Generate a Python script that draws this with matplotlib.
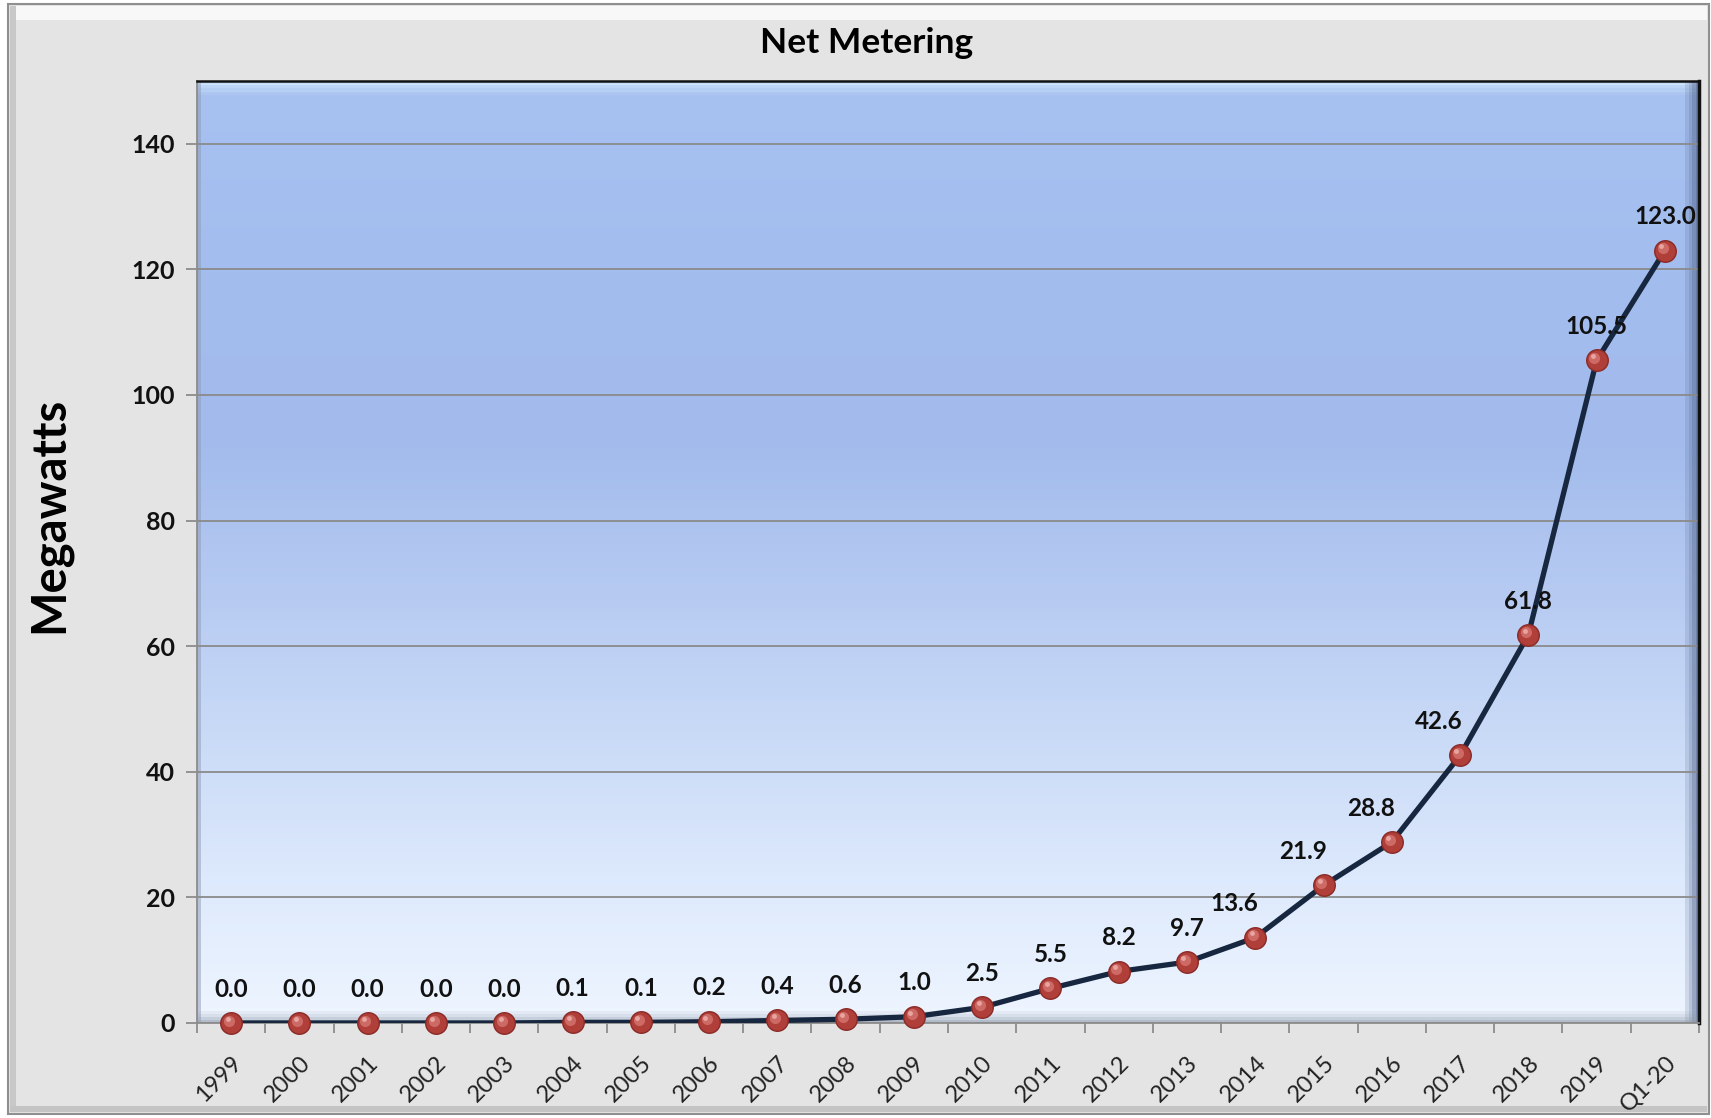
import matplotlib
matplotlib.use('Agg')
import matplotlib.pyplot as plt
import numpy as np
from matplotlib.patches import Rectangle
from matplotlib.colors import LinearSegmentedColormap
from matplotlib.transforms import ScaledTranslation

categories = ['1999', '2000', '2001', '2002', '2003', '2004', '2005', '2006',
              '2007', '2008', '2009', '2010', '2011', '2012', '2013', '2014',
              '2015', '2016', '2017', '2018', '2019', 'Q1-20']
values = [0.0, 0.0, 0.0, 0.0, 0.0, 0.1, 0.1, 0.2, 0.4, 0.6, 1.0, 2.5, 5.5,
          8.2, 9.7, 13.6, 21.9, 28.8, 42.6, 61.8, 105.5, 123.0]
y_ticks = [0, 20, 40, 60, 80, 100, 120, 140]
title = 'Net Metering'
y_label = 'Megawatts'

# label nudges (points) for a few data labels, as in the reference
label_dx = [0] * 22
for i in (15, 16, 17, 18):
    label_dx[i] = -15

FONT = 'Lato'
W, H = 1711, 1118
fig = plt.figure(figsize=(W / 100, H / 100), dpi=100, facecolor='white')


def px_rect(x0, y0, x1, y1, **kw):
    return Rectangle((x0 / W, 1 - y1 / H), (x1 - x0) / W, (y1 - y0) / H,
                     transform=fig.transFigure, **kw)


# chart area with bevel
fig.patches.append(px_rect(8, 4, 1709, 1114, facecolor='#e4e4e4',
                           edgecolor='#8f8f8f', lw=1.5, zorder=-3))
fig.patches.append(px_rect(10, 6, 1707, 20, facecolor='#f8f8f8',
                           edgecolor='none', zorder=-2))
fig.patches.append(px_rect(10, 6, 16, 1112, facecolor='#c8c8c8',
                           edgecolor='none', zorder=-2))
fig.patches.append(px_rect(10, 1106, 1707, 1112, facecolor='#c4c4c4',
                           edgecolor='none', zorder=-2))

L, R, T, B = 197, 1699, 81, 1023
ax = fig.add_axes([L / W, 1 - B / H, (R - L) / W, (B - T) / H])
ax.set_zorder(1)
ax.set_xlim(-0.5, len(categories) - 0.5)
ax.set_ylim(0, 150)

# gradient plot area
cmap = LinearSegmentedColormap.from_list('pa', [
    (0.0, '#eef5ff'), (0.15, '#dde9fc'), (0.3, '#cadbf7'), (0.45, '#b7cbf2'),
    (0.62, '#a2bbec'), (0.8, '#a3bdee'), (1.0, '#a7c1f1')])
grad = np.linspace(0, 1, 256).reshape(-1, 1)
ax.imshow(grad, extent=[-0.5, len(categories) - 0.5, 0, 150], aspect='auto',
          origin='lower', cmap=cmap, interpolation='bilinear', zorder=0)

# bevel bands inside plot area (axes fraction from pixels)
aw, ah = R - L, B - T
for k, a in enumerate([0.55, 0.4, 0.25, 0.12]):
    ax.add_patch(Rectangle((0, 1 - (k + 1) * 3.5 / ah), 1, 3.5 / ah,
                           transform=ax.transAxes, facecolor='#dff4ff',
                           alpha=a, edgecolor='none', zorder=0.6))
for k, a in enumerate([0.75, 0.55, 0.35, 0.18]):
    ax.add_patch(Rectangle((1 - (k + 1) * 3.5 / aw, 0), 3.5 / aw, 1,
                           transform=ax.transAxes, facecolor='#55688f',
                           alpha=a, edgecolor='none', zorder=0.6))
for k, a in enumerate([0.6, 0.4, 0.22, 0.1]):
    ax.add_patch(Rectangle((0, k * 3 / ah), 1, 3 / ah, transform=ax.transAxes,
                           facecolor='#8c96a8', alpha=a, edgecolor='none',
                           zorder=0.6))
ax.add_patch(Rectangle((0, 0), 4 / aw, 1, transform=ax.transAxes,
                       facecolor='#8f9bb3', alpha=0.5, edgecolor='none', zorder=0.6))

# grid
ax.set_yticks(y_ticks)
ax.yaxis.grid(True, color='#8a8a8a', lw=1.3)
ax.xaxis.grid(False)

for s in ('left', 'bottom'):
    ax.spines[s].set_color('#8c8c8c')
    ax.spines[s].set_linewidth(1.3)
ax.spines['top'].set_color('#111111')
ax.spines['top'].set_linewidth(1.8)
ax.spines['right'].set_color('#111111')
ax.spines['right'].set_linewidth(2.5)

x = np.arange(len(categories))
ax.plot(x, values, color='#17273f', lw=3.8, zorder=3, solid_capstyle='round')
ax.plot(x, values, 'o', ms=15.5, mfc='#b03f3a', mec='#8a2a26', mew=1.0,
        zorder=4, clip_on=False)
off = ax.transData + ScaledTranslation(-1.6 / 72, 1.8 / 72, fig.dpi_scale_trans)
ax.plot(x, values, 'o', ms=8, mfc='#d57670', mec='none', alpha=0.8,
        zorder=5, transform=off, clip_on=False)
off2 = ax.transData + ScaledTranslation(-2.6 / 72, 3.0 / 72, fig.dpi_scale_trans)
ax.plot(x, values, 'o', ms=3.5, mfc='#efb3ae', mec='none', alpha=0.8,
        zorder=5, transform=off2, clip_on=False)

for i, v in enumerate(values):
    ax.annotate(f'{v:.1f}', (i, v), xytext=(label_dx[i], 19),
                textcoords='offset points', ha='center', va='baseline',
                fontsize=17.5, fontweight='bold', family=FONT, color='#111111',
                zorder=6, annotation_clip=False)

# ticks
ax.set_xticks(x)
ax.set_xticklabels(categories, rotation=45, ha='right', va='top',
                   rotation_mode='anchor', fontsize=17, family=FONT,
                   color='#222222')
ax.tick_params(axis='x', which='major', length=0, pad=21)
ax.set_xticks(np.arange(-0.5, len(categories)), minor=True)
ax.tick_params(axis='x', which='minor', length=7, width=1.3, color='#8c8c8c',
               direction='out')
ax.tick_params(axis='y', length=8, width=1.3, color='#8c8c8c', pad=8,
               direction='out')
for t in ax.get_yticklabels():
    t.set_fontsize(18)
    t.set_fontweight('bold')
    t.set_family(FONT)
    t.set_color('#111111')

fig.text(49 / W, 1 - 515 / H, y_label, rotation=90, ha='center', va='center',
         fontsize=34, fontweight='bold', family=FONT, color='#000000')
fig.text(867 / W, 1 - 43 / H, title, ha='center', va='center',
         fontsize=25.5, fontweight='bold', family=FONT, color='#000000')

fig.savefig('out.png', dpi=100, facecolor=fig.get_facecolor())
